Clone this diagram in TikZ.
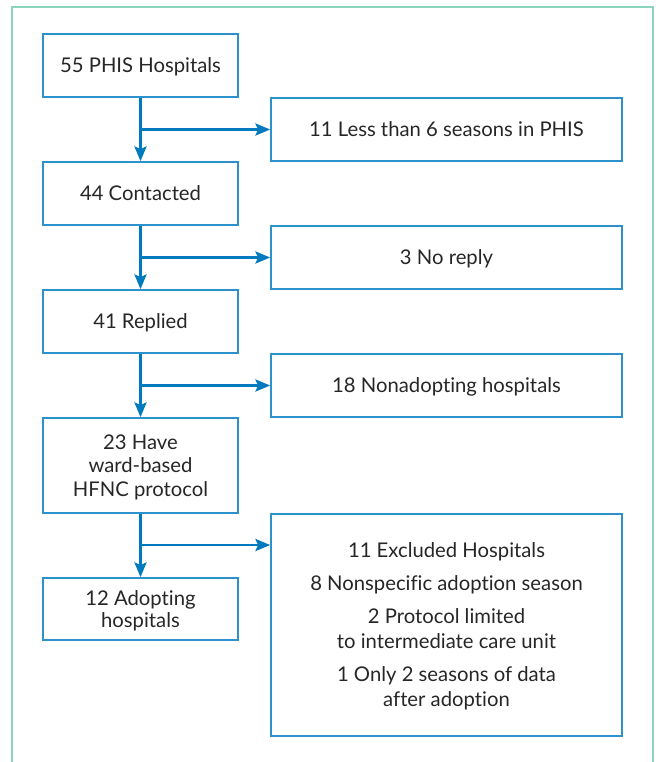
\documentclass[tikz,border=0pt]{standalone}
\usepackage{fontspec}
\setmainfont[Ligatures=NoCommon]{Lato}
\usetikzlibrary{arrows.meta}
\definecolor{flowblue}{RGB}{0,122,190}
\definecolor{boxblue}{RGB}{45,145,205}
\definecolor{framegreen}{RGB}{140,212,188}

\begin{document}
\begin{tikzpicture}[
      x=0.75pt,y=-0.75pt,
      box/.style={rectangle,draw=boxblue,line width=1.3pt,text=black!85,align=center,
        inner sep=0pt,text depth=0pt,minimum width=146.25pt,minimum height=47.25pt,
        font=\fontsize{15.2}{17.6}\selectfont},
      widebox/.style={box,minimum width=263.25pt},
      flow/.style={draw=flowblue,line width=2pt,-{Stealth[length=11pt,width=9pt,inset=2pt]}}
      ]
      \useasboundingbox (0,0) rectangle (658,762);
      % frame
      \draw[framegreen,line width=1pt] (12,762) -- (12,7) -- (653,7) -- (653,762);
      % main column
      \node[box] (phis) at (140.5,65.5) {55 PHIS Hospitals};
      \node[box] (contacted) at (140.5,193.5) {44 Contacted};
      \node[box] (replied) at (140.5,321.5) {41 Replied};
      \node[box,minimum height=71.25pt] (ward) at (140.5,465.5) {23 Have\\ward-based\\HFNC protocol};
      \node[box,minimum height=46.5pt,font=\fontsize{15.2}{16.2}\selectfont] (adopting) at (140.5,609) {12 Adopting\\hospitals};
      % exclusions
      \node[widebox] (fewseasons) at (446.5,129.5) {11 Less than 6 seasons in PHIS};
      \node[widebox] (noreply) at (446.5,257.5) {3 No reply};
      \node[widebox] (nonadopting) at (446.5,385.5) {18 Nonadopting hospitals};
      \node[widebox,minimum height=166.5pt,font=\fontsize{15.2}{18.75}\selectfont] (excluded) at (446.5,625) {%
        11 Excluded Hospitals\\[6pt]
        8 Nonspecific adoption season\\[6pt]
        2 Protocol limited\\to intermediate care unit\\[6pt]
        1 Only 2 seasons of data\\after adoption};
      \coordinate (split) at (140.5,545);
      % arrows
      \draw[flow] (phis) -- (contacted);
      \draw[flow] (contacted) -- (replied);
      \draw[flow] (replied) -- (ward);
      \draw[flow] (ward) -- (adopting);
      \draw[flow] (phis.south |- fewseasons.west) -- (fewseasons.west);
      \draw[flow] (contacted.south |- noreply.west) -- (noreply.west);
      \draw[flow] (replied.south |- nonadopting.west) -- (nonadopting.west);
      \draw[flow] (split) -- (split -| excluded.west);
    \end{tikzpicture}
\end{document}
